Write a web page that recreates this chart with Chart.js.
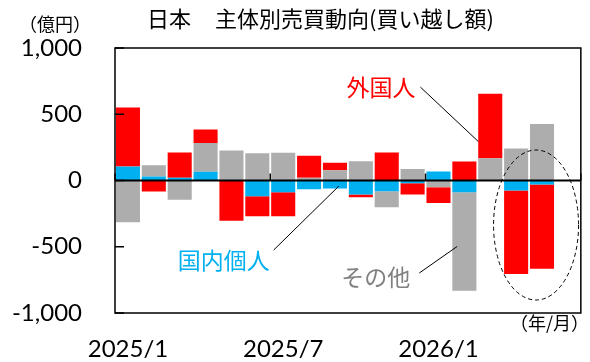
<!DOCTYPE html>
<html>
<head>
<meta charset="utf-8">
<script src="https://cdn.jsdelivr.net/npm/chart.js@4"></script>
<style>
  html, body { margin: 0; padding: 0; background: #fff; }
  #wrap { width: 590px; height: 362px; }
</style>
</head>
<body>
<div id="wrap"><canvas id="flow-chart"></canvas></div>
<script>
/* eslint-disable no-undef */
// 月次の投資主体別 売買動向（億円）
const categories = ['2025/1', '2025/2', '2025/3', '2025/4', '2025/5', '2025/6',
  '2025/7', '2025/8', '2025/9', '2025/10', '2025/11', '2025/12',
  '2026/1', '2026/2', '2026/3', '2026/4', '2026/5', '2026/6'];
const kojin = [106, 30, 20, 66, 0, -119, -88, -66, -61, -106, -81, -20, 68, -88, 0, -76, -30, null];
const sonota = [-316, 86, -146, 217, 227, 205, 210, 20, 78, 146, -121, 86, -50, -745, 167, 242, 427, null];
const gaikokujin = [445, -83, 192, 101, -303, -151, -182, 167, 56, -20, 212, -86, -119, 144, 487, -629, -636, null];
const yTicks = [-1000, -500, 0, 500, 1000];

const jpFont = '"Noto Sans CJK JP", "Noto Sans", sans-serif';
const numFont = 'Lato, "Liberation Sans", sans-serif';

// 枠線・ゼロ線・目盛り線
const framePlugin = {
  id: 'frame',
  afterDatasetsDraw(chart) {
    const { ctx, chartArea: a, scales: { x, y } } = chart;
    const y0 = y.getPixelForValue(0);
    const line = (x1, y1, x2, y2) => {
      ctx.beginPath(); ctx.moveTo(x1, y1); ctx.lineTo(x2, y2); ctx.stroke();
    };
    ctx.save();
    ctx.strokeStyle = '#000';
    ctx.lineWidth = 2;
    line(a.left, y0, a.right, y0);
    ctx.lineWidth = 1.5;
    ctx.strokeRect(a.left, a.top, a.right - a.left, a.bottom - a.top);
    yTicks.forEach((v) => {
      const py = y.getPixelForValue(v);
      line(a.left, py, a.left + 9, py);
    });
    const half = (x.getPixelForValue(1) - x.getPixelForValue(0)) / 2;
    for (let i = 0; i <= categories.length; i += 6) {
      const px = x.getPixelForValue(i) - half;
      line(px, y0, px, y0 - 7);
    }
    ctx.restore();
  },
};

// 系列名の注記と引き出し線、直近2か月の楕円
const notePlugin = {
  id: 'notes',
  afterDraw(chart) {
    const { ctx, scales: { x, y } } = chart;
    const p = (i, v) => [x.getPixelForValue(i), y.getPixelForValue(v)];
    const leader = (from, to) => {
      const [x1, y1] = p(from[0], from[1]);
      const [x2, y2] = p(to[0], to[1]);
      ctx.beginPath(); ctx.moveTo(x1, y1); ctx.lineTo(x2, y2); ctx.stroke();
      return [x1, y1];
    };
    ctx.save();
    ctx.strokeStyle = '#000';
    ctx.lineWidth = 1;
    ctx.textAlign = 'right';
    ctx.textBaseline = 'middle';
    ctx.font = `23px ${jpFont}`;

    let s = leader([11.3, 705], [13.54, 294]);
    ctx.fillStyle = '#ff0000';
    ctx.fillText('外国人', s[0] - 5, s[1]);

    s = leader([5.63, -525], [8.15, -42]);
    ctx.fillStyle = '#00b0f0';
    ctx.fillText('国内個人', s[0] - 4, s[1] + 10);

    s = leader([11.26, -698], [12.72, -498]);
    ctx.fillStyle = '#808080';
    ctx.fillText('その他', s[0] - 9, s[1] + 4);

    const [cx, cy] = p(15.77, -336);
    ctx.setLineDash([4, 3]);
    ctx.beginPath();
    ctx.ellipse(cx, cy, 42.5, 75, 0, 0, Math.PI * 2);
    ctx.stroke();
    ctx.setLineDash([]);

    // タイトルと単位
    ctx.fillStyle = '#000';
    ctx.textAlign = 'left';
    ctx.font = `22px ${jpFont}`;
    ctx.fillText('日本', 147, 19);
    ctx.fillText('主体別売買動向(買い越し額)', 215, 19);
    ctx.font = `18px ${jpFont}`;
    ctx.textAlign = 'right';
    ctx.fillText('（億円）', 91, 24);
    ctx.fillText('（年/月）', 589, 323);
    ctx.restore();
  },
};

const flowCanvas = document.getElementById('flow-chart').getContext('2d');
const flowChart = new Chart(flowCanvas, {
  type: 'bar',
  data: {
    labels: categories,
    datasets: [
      { label: '国内個人', data: kojin, backgroundColor: '#00b0f0' },
      { label: 'その他', data: sonota, backgroundColor: '#adadad' },
      { label: '外国人', data: gaikokujin, backgroundColor: '#ff0000' },
    ],
  },
  options: {
    responsive: true,
    maintainAspectRatio: false,
    animation: false,
    layout: { padding: { top: 48, right: 4, left: 0, bottom: 0 } },
    datasets: { bar: { barPercentage: 0.93, categoryPercentage: 1 } },
    plugins: { legend: { display: false }, tooltip: { enabled: false } },
    scales: {
      x: {
        stacked: true,
        grid: { display: false, drawTicks: false },
        border: { display: false },
        afterFit: (scale) => { scale.height = 49; },
        ticks: {
          autoSkip: false,
          maxRotation: 0,
          padding: 22,
          color: '#000',
          font: { family: numFont, size: 24 },
          callback: (val, i) => (i % 6 === 0 ? categories[i] : ''),
        },
      },
      y: {
        stacked: true,
        min: -1000,
        max: 1000,
        grid: { display: false, drawTicks: false },
        border: { display: false },
        afterFit: (scale) => { scale.width = 115; },
        afterBuildTicks: (scale) => { scale.ticks = yTicks.map((v) => ({ value: v })); },
        ticks: {
          padding: 33,
          color: '#000',
          font: { family: numFont, size: 24 },
          callback: (v) => v.toLocaleString('en-US'),
        },
      },
    },
  },
  plugins: [framePlugin, notePlugin],
});
flowChart.update();
</script>
</body>
</html>
